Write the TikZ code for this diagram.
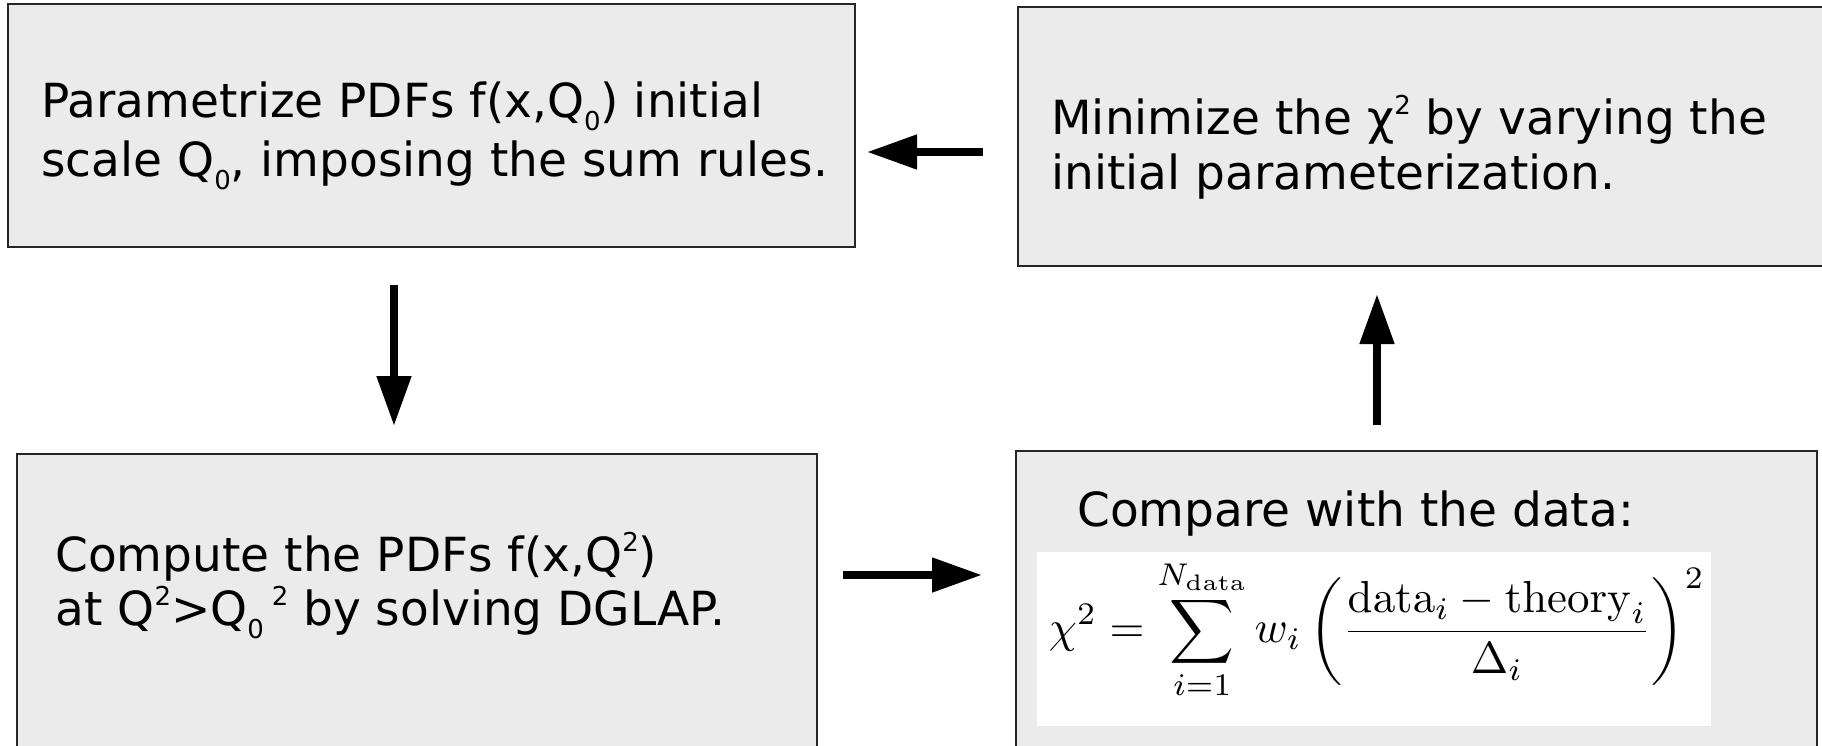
\documentclass[tikz,border=0pt]{standalone}
\usepackage[no-math]{fontspec}
\setmainfont{DejaVu Sans}
\usepackage{amsmath}
\usepackage{graphicx}
\usetikzlibrary{arrows.meta,fit}
\definecolor{boxgray}{HTML}{EBEBEB}
\newcommand\mysub[1]{\raisebox{-0.28em}{\fontsize{13}{13}\selectfont #1}}
\newcommand\mysup[1]{\raisebox{0.42em}{\fontsize{13}{13}\selectfont #1}}
\tikzset{
  box/.style={draw=black!85, line width=1pt, fill=boxgray, inner sep=0pt, outer sep=0pt},
  txt/.style={anchor=base west, inner sep=0pt, font=\fontsize{23.5}{28}\selectfont},
  arr/.style={line width=4pt, -{Triangle[length=25pt,width=16.5pt]}},
}
\begin{document}
\begin{tikzpicture}[x=0.5pt,y=-0.5pt]
\clip (0,0) rectangle (1822,745);
\fill[white] (0,0) rectangle (1822,745);
% boxes
\node[box, fit={(8,4.3) (855,246.7)}] (b1) {};
\node[box, fit={(1018,7) (1840,266)}] (b2) {};
\node[box, fit={(17,454) (817,770)}] (b3) {};
\node[box, fit={(1016,450.7) (1817,770)}] (b4) {};
% texts
\node[txt] (t1a) at (41,117) {Parametrize PDFs f(x,Q\mysub{0}) initial};
\node[txt] (t1b) at (41,176) {scale Q\mysub{0}, imposing the sum rules.};
\node[txt] (t2a) at (1051,134) {Minimize the χ\mysup{2} by varying the};
\node[txt] (t2b) at (1051,189) {initial parameterization.};
\node[txt] (t3a) at (55,571) {Compute the PDFs f(x,Q\mysup{2})};
\node[txt] (t3b) at (55,625) {at Q\mysup{2}>Q\mysub{0}\,\mysup{2} by solving DGLAP.};
\node[txt] (t4a) at (1077,526) {Compare with the data:};
% formula panel
\fill[white] (1037,552) rectangle (1711,726);
\node[inner sep=0pt] (fm) at (1377,630) {\resizebox{328pt}{!}{$\displaystyle \chi^2 = \sum_{i=1}^{N_{\mathrm{data}}} w_i \left( \frac{\mathrm{data}_i - \mathrm{theory}_i}{\Delta_i} \right)^2$}};
% arrows
\draw[arr, shorten <=17.5pt, shorten >=6pt] (b2.west |- 0,152) -- (b1.east |- 0,152);
\draw[arr, shorten <=19.2pt, shorten >=14pt] (b1.south -| 394,0) -- (b3.north -| 394,0);
\draw[arr, shorten <=13pt, shorten >=17pt] (b3.east |- 0,575) -- (b4.west |- 0,575);
\draw[arr, shorten <=12.9pt, shorten >=14pt] (b4.north -| 1377,0) -- (b2.south -| 1377,0);
\end{tikzpicture}
\end{document}
